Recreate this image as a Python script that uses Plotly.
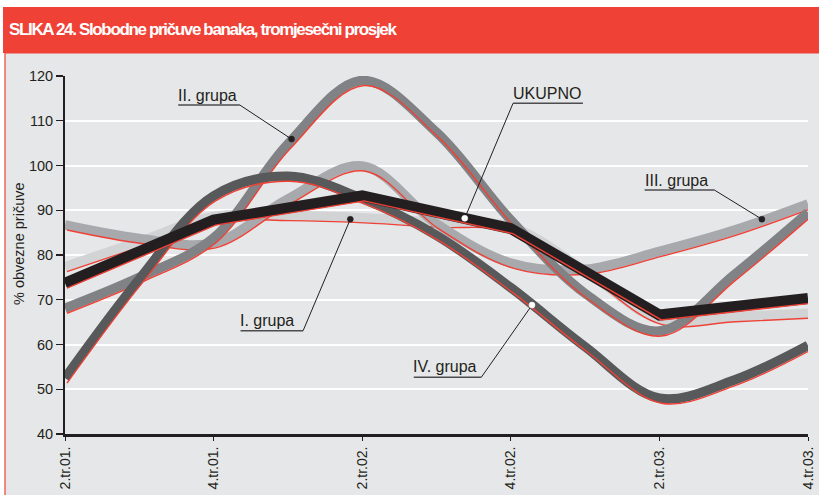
import plotly.graph_objects as go

# ---------------- data ----------------
quarters = ["2.tr.01.", "3.tr.01.", "4.tr.01.", "1.tr.02.", "2.tr.02.", "3.tr.02.",
            "4.tr.02.", "1.tr.03.", "2.tr.03.", "3.tr.03.", "4.tr.03."]
tick_labels = ["2.tr.01.", "4.tr.01.", "2.tr.02.", "4.tr.02.", "2.tr.03.", "4.tr.03."]

grupa_I = [77.4, 83.0, 88.6, 88.8, 88.3, 87.3, 86.3, 76.5, 65.6, 66.2, 67.0]
grupa_II = [68.1, 75.0, 83.8, 104.8, 119.0, 107.4, 87.8, 71.4, 63.0, 75.5, 89.5]
grupa_III = [86.7, 83.7, 82.7, 92.5, 99.9, 87.0, 78.2, 76.8, 80.8, 85.5, 91.4]
grupa_IV = [52.5, 74.6, 93.2, 97.6, 92.6, 84.4, 72.7, 59.5, 48.0, 52.0, 59.8]
ukupno = [73.7, 87.8, 93.2, 85.9, 66.6, 70.3]
ukupno_quarters = tick_labels

y_title = "% obvezne pričuve"
title = "SLIKA 24. Slobodne pričuve banaka, tromjesečni prosjek"

# ---------------- styling ----------------
TXT = "#231f20"
RED = "#ef4136"
PANEL = "#e6e7e8"
FONT = "Liberation Sans, Arial, Helvetica, sans-serif"

W, H = 819, 495
L, R, T, B = 65, 11, 76, 61
PW, PH = W - L - R, H - T - B
XMAX = len(quarters) - 1

x_all = [quarters.index(q) for q in quarters]
x_uk = [quarters.index(q) for q in ukupno_quarters]

# bottom -> top drawing order
series = [
    dict(name="I. grupa", x=x_all, y=grupa_I, color="#d1d3d4", width=9.5, shape="spline"),
    dict(name="III. grupa", x=x_all, y=grupa_III, color="#a7a9ac", width=9.5, shape="spline"),
    dict(name="II. grupa", x=x_all, y=grupa_II, color="#808285", width=9.5, shape="spline"),
    dict(name="IV. grupa", x=x_all, y=grupa_IV, color="#58595b", width=9.5, shape="spline"),
    dict(name="UKUPNO", x=x_uk, y=ukupno, color=TXT, width=11, shape="linear"),
]

# red shadow offset, in pixels (right, down)
DX, DY = 2.0, 5.0
sx = DX * XMAX / PW
sy = DY * 80.0 / PH

fig = go.Figure()
layout_axes = {}
n = 0
for s in series:
    for kind in ("gray", "red"):
        n += 1
        xa = "x" if n == 1 else f"x{n}"
        ya = "y" if n == 1 else f"y{n}"
        if kind == "gray":
            line = dict(color=s["color"], width=s["width"], shape=s["shape"])
        else:
            line = dict(color=RED, width=1.4, shape=s["shape"])
        fig.add_trace(go.Scatter(x=s["x"], y=s["y"], mode="lines", line=line,
                                 xaxis=xa, yaxis=ya, showlegend=False,
                                 hoverinfo="skip", name=s["name"]))
        if n > 1:
            if kind == "gray":
                xr, yr = [0, XMAX], [40, 120]
            else:
                xr, yr = [-sx, XMAX - sx], [40 + sy, 120 + sy]
            layout_axes[f"xaxis{n}"] = dict(overlaying="x", range=xr, visible=False,
                                            fixedrange=True, automargin=False)
            layout_axes[f"yaxis{n}"] = dict(overlaying="y", range=yr, visible=False,
                                            fixedrange=True, automargin=False)

fig.update_layout(**layout_axes)


def px_x(px):
    return (px - L) / PW


def px_y(py):
    return (H - B - py) / PH


shapes = [
    # grey panel with red border
    dict(type="rect", xref="paper", yref="paper", x0=px_x(5), x1=px_x(830),
         y0=px_y(505), y1=px_y(53), fillcolor=PANEL, line=dict(color=RED, width=1.2),
         layer="below"),
    # title bar
    dict(type="rect", xref="paper", yref="paper", x0=px_x(3), x1=px_x(830),
         y0=px_y(53), y1=px_y(7), fillcolor=RED, line=dict(width=0), layer="below"),
]

# label annotations: text position, underline, leader end, dot
labels = [
    dict(text="II. grupa", tx=1.50, ty=115.6, u0=1.524, u1=2.354, uy=113.5, side="right",
         dx=3.049, dy=105.9, dot="#231f20"),
    dict(text="UKUPNO", tx=6.00, ty=116.0, u0=6.030, u1=6.971, uy=113.9, side="left",
         dx=5.380, dy=88.2, dot="white"),
    dict(text="III. grupa", tx=7.78, ty=96.7, u0=7.801, u1=8.742, uy=94.5, side="right",
         dx=9.379, dy=88.0, dot="#231f20"),
    dict(text="I. grupa", tx=2.33, ty=65.4, u0=2.363, u1=3.205, uy=63.1, side="right",
         dx=3.840, dy=88.0, dot="#231f20"),
    dict(text="IV. grupa", tx=4.66, ty=55.0, u0=4.694, u1=5.604, uy=52.7, side="right",
         dx=6.285, dy=68.8, dot="white"),
]

annotations = [
    dict(text='<b><span style="letter-spacing:-1.35px">' + title + "</span></b>",
         xref="paper", yref="paper", x=px_x(7), y=px_y(30),
         xanchor="left", yanchor="middle", showarrow=False,
         font=dict(family=FONT, size=17, color="white")),
    dict(text=y_title, xref="paper", yref="paper", x=px_x(19), y=px_y(244),
         xanchor="center", yanchor="middle", textangle=-90, showarrow=False,
         font=dict(family=FONT, size=14.5, color=TXT)),
]

for lb in labels:
    annotations.append(dict(text=lb["text"], x=lb["tx"], y=lb["ty"], xref="x", yref="y",
                            xanchor="left", yanchor="middle", showarrow=False,
                            font=dict(family=FONT, size=16, color=TXT)))
    shapes.append(dict(type="line", xref="x", yref="y", x0=lb["u0"], x1=lb["u1"],
                       y0=lb["uy"], y1=lb["uy"], line=dict(color="#4d4d4f", width=1.5),
                       layer="above"))
    sxp = lb["u1"] if lb["side"] == "right" else lb["u0"]
    shapes.append(dict(type="line", xref="x", yref="y", x0=sxp, y0=lb["uy"],
                       x1=lb["dx"], y1=lb["dy"], line=dict(color=TXT, width=1),
                       layer="above"))
    shapes.append(dict(type="circle", xref="x", yref="y", xsizemode="pixel",
                       ysizemode="pixel", xanchor=lb["dx"], yanchor=lb["dy"],
                       x0=-3, x1=3, y0=-3, y1=3, fillcolor=lb["dot"],
                       line=dict(color=lb["dot"], width=0.5), layer="above"))

fig.update_layout(
    width=W, height=H,
    margin=dict(l=L, r=R, t=T, b=B, pad=0, autoexpand=False),
    paper_bgcolor="white",
    plot_bgcolor=PANEL,
    font=dict(family=FONT, color=TXT),
    showlegend=False,
    xaxis=dict(range=[0, XMAX], tickvals=[quarters.index(q) for q in tick_labels],
               ticktext=tick_labels, tickangle=-90, ticks="outside", ticklen=4,
               tickwidth=1, tickcolor=TXT, showline=True, linecolor=TXT, linewidth=3,
               showgrid=False, zeroline=False, fixedrange=True, automargin=False,
               tickfont=dict(family=FONT, size=14, color=TXT)),
    yaxis=dict(range=[40, 120], dtick=10, tick0=40, ticks="outside", ticklen=7,
               tickwidth=1.2, tickcolor=TXT, showline=True, linecolor=TXT, linewidth=2,
               showgrid=True, gridcolor="white", gridwidth=2, zeroline=False,
               fixedrange=True, automargin=False,
               tickfont=dict(family=FONT, size=14.5, color=TXT)),
    shapes=shapes,
    annotations=annotations,
)

fig.write_html("out.html",
               config={"displayModeBar": False, "staticPlot": True},
               post_script="document.body.style.margin='0px';"
                           "document.body.style.overflow='hidden';")
